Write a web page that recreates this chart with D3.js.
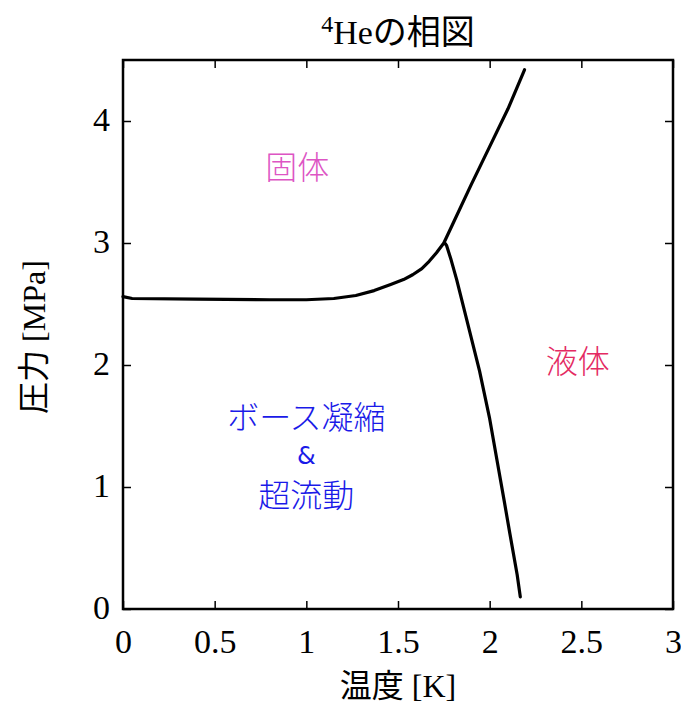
<!DOCTYPE html>
<html>
<head>
<meta charset="utf-8">
<script src="https://cdn.jsdelivr.net/npm/d3@7"></script>
<style>
  html, body { margin: 0; padding: 0; background: #fff; }
  svg { display: block; }
  .num { font-family: "Liberation Serif", "Noto Sans CJK JP", serif; }
  .jp { font-family: "Noto Sans CJK JP", sans-serif; font-weight: 300; }
  .amp { font-family: "DejaVu Sans", sans-serif; }
</style>
</head>
<body>
<svg id="chart" width="681" height="704"></svg>
<script>
// Melting curve (solid boundary): temperature [K] and pressure [MPa]
const meltT = [0, 0.05, 0.4, 0.8, 1.0, 1.15, 1.27, 1.37, 1.46, 1.53, 1.58, 1.63, 1.67, 1.71, 1.75, 1.80, 1.90, 2.00, 2.10, 2.19];
const meltP = [2.56, 2.545, 2.54, 2.535, 2.535, 2.545, 2.57, 2.61, 2.66, 2.70, 2.74, 2.79, 2.85, 2.92, 3.00, 3.16, 3.48, 3.79, 4.10, 4.42];

// Lambda line (superfluid / normal liquid boundary)
const lambdaT = [1.755, 1.765, 1.79, 1.82, 1.87, 1.90, 1.945, 2.00, 2.04, 2.08, 2.11, 2.15, 2.167];
const lambdaP = [3.00, 2.98, 2.86, 2.70, 2.40, 2.22, 1.95, 1.56, 1.22, 0.88, 0.62, 0.28, 0.10];

// Axis ticks
const xTicks = [0, 0.5, 1, 1.5, 2, 2.5, 3];
const yTicks = [0, 1, 2, 3, 4];

// Phase region labels: one entry per text line, with position (T, P) and colour
const labelText = ["固体", "液体", "ボース凝縮", "&", "超流動"];
const labelT = [0.95, 2.48, 1.0, 1.0, 1.0];
const labelP = [3.62, 2.03, 1.57, 1.26, 0.925];
const labelSize = [32, 32, 32, 24, 32];
const labelColors = ["#dd55c4", "#e42a62", "#1a1ae8", "#1a1ae8", "#1a1ae8"];

const svg = d3.select("#chart");
const plotL = 123, plotR = 673, plotT = 60, plotB = 609;

const x = d3.scaleLinear().domain([0, 3]).range([plotL, plotR]);
const y = d3.scaleLinear().domain([0, 4.5]).range([plotB, plotT]);

// Inward ticks on all four sides
const tickLen = 8;
const axisStyle = g => {
  g.select(".domain").remove();
  g.selectAll(".tick line").attr("stroke", "#000").attr("stroke-width", 1.5);
};
svg.append("g").attr("transform", `translate(0,${plotB})`)
  .call(d3.axisBottom(x).tickValues(xTicks).tickSize(-tickLen).tickFormat(d3.format("~g")))
  .call(axisStyle)
  .call(g => g.selectAll(".tick text").attr("class", "num").attr("font-size", 34)
    .attr("fill", "#000").attr("y", 20).attr("dy", "0.71em"));
svg.append("g").attr("transform", `translate(0,${plotT})`)
  .call(d3.axisTop(x).tickValues(xTicks).tickSize(-tickLen).tickFormat(""))
  .call(axisStyle);
svg.append("g").attr("transform", `translate(${plotL},0)`)
  .call(d3.axisLeft(y).tickValues(yTicks).tickSize(-tickLen).tickFormat(d3.format("~g")))
  .call(axisStyle)
  .call(g => g.selectAll(".tick text").attr("class", "num").attr("font-size", 34)
    .attr("fill", "#000").attr("x", -13).attr("dy", "0.28em"));
svg.append("g").attr("transform", `translate(${plotR},0)`)
  .call(d3.axisRight(y).tickValues(yTicks).tickSize(-tickLen).tickFormat(""))
  .call(axisStyle);

// Plot frame
svg.append("rect")
  .attr("x", plotL).attr("y", plotT)
  .attr("width", plotR - plotL).attr("height", plotB - plotT)
  .attr("fill", "none").attr("stroke", "#000").attr("stroke-width", 2.5);

// Phase boundaries
const line = d3.line().x(d => x(d[0])).y(d => y(d[1]));
const curves = [d3.zip(meltT, meltP), d3.zip(lambdaT, lambdaP)];
svg.append("g").selectAll("path").data(curves).join("path")
  .attr("d", line)
  .attr("fill", "none").attr("stroke", "#000").attr("stroke-width", 3.2)
  .attr("stroke-linejoin", "round").attr("stroke-linecap", "round");

// Phase labels
svg.append("g").selectAll("text").data(labelText).join("text")
  .attr("class", (d, i) => i === 3 ? "amp" : "jp")
  .attr("x", (d, i) => x(labelT[i]))
  .attr("y", (d, i) => y(labelP[i]))
  .attr("dy", "0.35em")
  .attr("text-anchor", "middle")
  .attr("font-size", (d, i) => labelSize[i])
  .attr("fill", (d, i) => labelColors[i])
  .text(d => d);

// Title
const title = svg.append("text").attr("class", "num")
  .attr("x", (plotL + plotR) / 2).attr("y", 44)
  .attr("text-anchor", "middle").attr("font-size", 34).attr("fill", "#000");
title.append("tspan").attr("font-size", 24).attr("dy", "-12").text("4");
title.append("tspan").attr("dy", "12").text("Heの相図");

// Axis labels
svg.append("text").attr("class", "num")
  .attr("x", (plotL + plotR) / 2).attr("y", 697)
  .attr("text-anchor", "middle").attr("font-size", 32).attr("fill", "#000")
  .text("温度 [K]");
svg.append("text").attr("class", "num")
  .attr("transform", `translate(45,337) rotate(-90)`)
  .attr("text-anchor", "middle").attr("font-size", 32).attr("fill", "#000")
  .text("圧力 [MPa]");
</script>
</body>
</html>
